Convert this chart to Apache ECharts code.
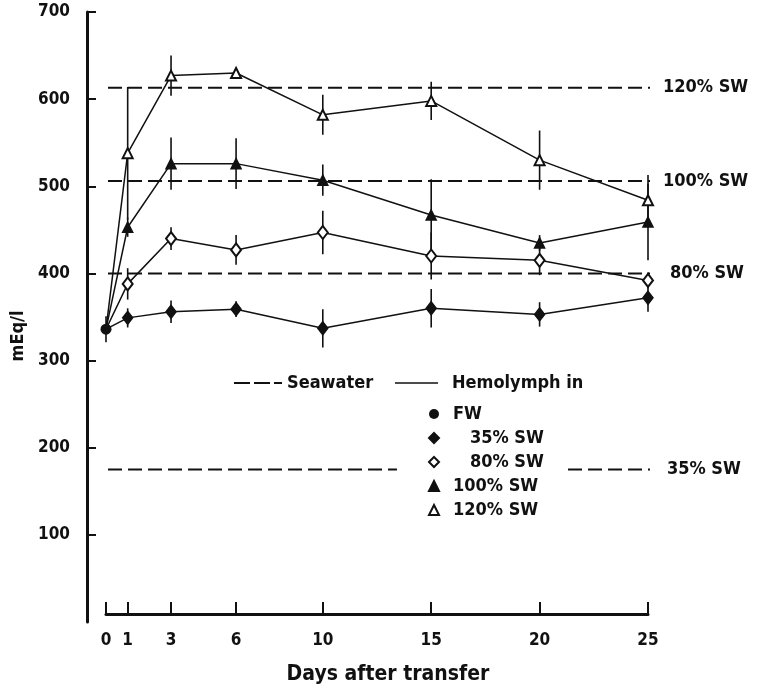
<!DOCTYPE html>
<html><head><meta charset="utf-8">
<script src="https://cdn.jsdelivr.net/npm/echarts@6/dist/echarts.min.js"></script>
<style>html,body{margin:0;padding:0;background:#fff}#c{width:764px;height:691px}</style>
</head><body><div id="c"></div>
<script>
// ---- data ----
const days = [0, 1, 3, 6, 10, 15, 20, 25];
const xTickValues = [0, 1, 3, 6, 10, 15, 20, 25];
const yTickValues = [100, 200, 300, 400, 500, 600, 700];

const fwValue = [336];
const fwErr = [15];

const sw35 = [336, 349, 356, 359, 337, 360, 353, 372];
const sw35Err = [0, 11, 13, 9, 22, 22, 14, 16];
const sw80 = [336, 388, 440, 427, 447, 420, 415, 392];
const sw80Err = [0, 18, 13, 17, 25, 27, 17, 9];
const sw100 = [336, 453, 526, 526, 507, 467, 435, 459];
const sw100Err = [0, 11, 30, 29, 18, 41, 9, 44];
const sw120 = [336, 538, 627, 630, 582, 598, 530, 484];
const sw120Err = [0, 76, 23, 6, 23, 22, 34, 29];

const seawaterNames = ['120% SW', '100% SW', '80% SW', '35% SW'];
const seawaterLevels = [613, 506, 400, 175];

const legendNames = ['FW', '\u2007 35% SW', '\u2007 80% SW', '100% SW', '120% SW'];

// ---- style ----
const FONT = "'DejaVu Sans Condensed', 'DejaVu Sans', sans-serif";
const INK = '#111';
const X_LEFT = -0.83, X_RIGHT = 25.55;

const chart = echarts.init(document.getElementById('c'));

function pts(vals) {
  return vals.map((v, i) => i === 0 ? { value: [days[i], v], symbol: 'none' } : [days[i], v]);
}
function hemo(name, vals, symbol, size) {
  return {
    name, type: 'line', data: pts(vals), symbol, symbolSize: size,
    color: INK,
    lineStyle: { color: INK, width: 1.5 },
    itemStyle: { color: INK, borderColor: INK, borderWidth: 1.5 },
    z: 5, clip: false
  };
}
function errSeries(vals, errs) {
  return {
    type: 'custom', silent: true, z: 4, clip: false,
    data: vals.map((v, i) => [days[i], v, errs[i]]),
    encode: { x: 0, y: 1 },
    renderItem(params, api) {
      const x = api.value(0), y = api.value(1), e = api.value(2);
      if (!e) return null;
      const p1 = api.coord([x, y - e]), p2 = api.coord([x, y + e]);
      return { type: 'line', shape: { x1: p1[0], y1: p1[1], x2: p2[0], y2: p2[1] },
               style: { stroke: INK, lineWidth: 1.6 } };
    }
  };
}
function seaLine(label, level, x0, x1, showLabel, dist) {
  return {
    name: 'seawater ' + label + (showLabel ? '' : ' a'), type: 'line', data: [[x0, level], [x1, level]],
    symbol: 'none', clip: false, z: 2, silent: true, color: INK,
    lineStyle: { color: INK, width: 1.9, type: [14, 6] },
    endLabel: showLabel ? { show: true, formatter: label, color: INK, fontSize: 18,
      fontWeight: 'bold', fontFamily: FONT, distance: dist } : { show: false }
  };
}

const series = [];
series.push(seaLine(seawaterNames[0], seawaterLevels[0], X_LEFT, X_RIGHT, true, 13));
series.push(seaLine(seawaterNames[1], seawaterLevels[1], X_LEFT, X_RIGHT, true, 13));
series.push(seaLine(seawaterNames[2], seawaterLevels[2], X_LEFT, X_RIGHT, true, 20));
series.push(seaLine(seawaterNames[3], seawaterLevels[3], X_LEFT, 13.42, false, 0));
series.push(seaLine(seawaterNames[3], seawaterLevels[3], 21.31, 25.09, true, 17));

series.push(errSeries(sw35, sw35Err));
series.push(errSeries(sw80, sw80Err));
series.push(errSeries(sw100, sw100Err));
series.push(errSeries(sw120, sw120Err));
series.push(errSeries(fwValue, fwErr));

series.push(hemo(legendNames[1], sw35, 'diamond', [10, 13]));
series.push(hemo(legendNames[2], sw80, 'emptyDiamond', [10, 13]));
series.push(hemo(legendNames[3], sw100, 'triangle', 10));
series.push(hemo(legendNames[4], sw120, 'emptyTriangle', 10));
series.push({
  name: legendNames[0], type: 'line', data: fwValue.map((v, i) => [days[i], v]),
  symbol: 'circle', symbolSize: 11, color: INK, itemStyle: { color: INK }, z: 6
});

const option = {
  animation: false,
  backgroundColor: '#fff',
  color: [INK],
  textStyle: { fontFamily: FONT, color: INK },
  grid: { left: 106, right: 116, top: 12, bottom: 69, containLabel: false },
  xAxis: {
    type: 'value', min: 0, max: 25, offset: -8,
    splitLine: { show: false },
    axisLine: { show: true, onZero: false, lineStyle: { color: INK, width: 3 } },
    axisTick: { show: true, inside: true, length: 12, customValues: xTickValues,
                lineStyle: { color: INK, width: 2 } },
    axisLabel: { customValues: xTickValues, fontSize: 17, fontWeight: 'bold', color: INK, fontFamily: FONT, margin: 18 }
  },
  yAxis: {
    type: 'value', min: 0, max: 700, offset: 19,
    splitLine: { show: false },
    axisLine: { show: true, onZero: false, lineStyle: { color: INK, width: 3 } },
    axisTick: { show: true, inside: true, length: 9, customValues: yTickValues,
                lineStyle: { color: INK, width: 2 } },
    axisLabel: { customValues: yTickValues, fontSize: 17, fontWeight: 'bold', color: INK, fontFamily: FONT, margin: 17 }
  },
  legend: {
    orient: 'vertical', left: 428, top: 405, padding: 0, itemGap: 6,
    itemWidth: 10, itemHeight: 10,
    textStyle: { fontSize: 18, fontWeight: 'bold', color: INK, fontFamily: FONT, padding: [0, 0, 0, 9] },
    data: [
      { name: legendNames[0], icon: 'circle' },
      { name: legendNames[1], icon: 'diamond' },
      { name: legendNames[2], icon: 'emptyDiamond' },
      { name: legendNames[3], icon: 'triangle' },
      { name: legendNames[4], icon: 'emptyTriangle' }
    ],
    selectedMode: false
  },
  graphic: [
    { type: 'text', x: 18, y: 336, rotation: Math.PI / 2,
      style: { text: 'mEq/l', fontSize: 18, fontWeight: 'bold', fontFamily: FONT, fill: INK, align: 'center', verticalAlign: 'middle' } },
    { type: 'text', x: 388, y: 675,
      style: { text: 'Days after transfer', fontSize: 21, fontWeight: 'bold', fontFamily: FONT, fill: INK, align: 'center', verticalAlign: 'middle' } },
    { type: 'line', shape: { x1: 234, y1: 383, x2: 282, y2: 383 },
      style: { stroke: INK, lineWidth: 1.9, lineDash: [16, 4] } },
    { type: 'text', x: 287, y: 383,
      style: { text: 'Seawater', fontSize: 18, fontWeight: 'bold', fontFamily: FONT, fill: INK, align: 'left', verticalAlign: 'middle' } },
    { type: 'line', shape: { x1: 395, y1: 383, x2: 438, y2: 383 },
      style: { stroke: INK, lineWidth: 1.7 } },
    { type: 'text', x: 452, y: 383,
      style: { text: 'Hemolymph in', fontSize: 18, fontWeight: 'bold', fontFamily: FONT, fill: INK, align: 'left', verticalAlign: 'middle' } }
  ],
  series
};
chart.setOption(option);
</script>
</body></html>
